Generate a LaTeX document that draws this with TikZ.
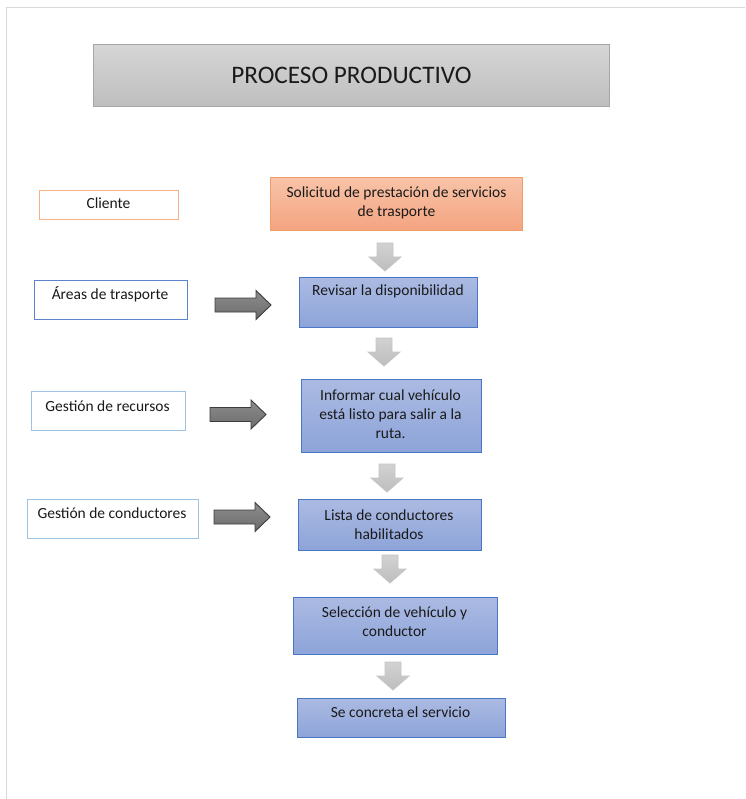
\documentclass[tikz,border=0pt]{standalone}
\usepackage{fontspec}
\setmainfont{Carlito}
\definecolor{txtcol}{HTML}{1A1A1A}
\definecolor{framecol}{HTML}{D9D9D9}
\definecolor{titletop}{HTML}{D6D6D6}
\definecolor{titlebot}{HTML}{BEBEBE}
\definecolor{titleline}{HTML}{A6A6A6}
\definecolor{orangetop}{HTML}{F8C3A8}
\definecolor{orangebot}{HTML}{F4A480}
\definecolor{orangeline}{HTML}{F19C6B}
\definecolor{clientline}{HTML}{F4B183}
\definecolor{bluetop}{HTML}{ABBAE2}
\definecolor{bluebot}{HTML}{8DA4D9}
\definecolor{blueline}{HTML}{4A76C6}
\definecolor{areasline}{HTML}{5B84CC}
\definecolor{lightblueline}{HTML}{9DC3E6}
\definecolor{garrowtop}{HTML}{D2D2D2}
\definecolor{garrowbot}{HTML}{BDBDBD}
\definecolor{garrowline}{HTML}{C6C6C6}
\definecolor{darrowtop}{HTML}{8C8C8C}
\definecolor{darrowbot}{HTML}{6C6C6C}
\definecolor{darrowline}{HTML}{3C3C3C}
\begin{document}
\begin{tikzpicture}[x=1pt,y=-1pt,
  boxbase/.style={rectangle, inner sep=0pt, anchor=north west, line width=0.9pt},
  titlebox/.style={boxbase, shading=axis, top color=titletop, bottom color=titlebot, draw=titleline},
  orangebox/.style={boxbase, shading=axis, top color=orangetop, bottom color=orangebot, draw=orangeline},
  bluebox/.style={boxbase, shading=axis, top color=bluetop, bottom color=bluebot, draw=blueline},
  whitebox/.style={boxbase, fill=white, draw=#1},
  txt/.style={font=\fontsize{15.5}{19}\selectfont, text=txtcol, align=center, inner sep=0pt},
  garrow/.style={shading=axis, top color=garrowtop, bottom color=garrowbot, draw=garrowline, line width=0.8pt, line join=miter},
  darrow/.style={shading=axis, top color=darrowtop, bottom color=darrowbot, draw=darrowline, line width=0.9pt, line join=miter},
  gdown/.pic={\draw[garrow] (-8,0) -- (8,0) -- (8,14) -- (16,14) -- (0,28) -- (-16,14) -- (-8,14) -- cycle;},
  dright/.pic={\draw[darrow] (0,-7) -- (41,-7) -- (41,-14.5) -- (56,0) -- (41,14.5) -- (41,7) -- (0,7) -- cycle;}
]
\useasboundingbox (0,0) rectangle (745,799);
\fill[white] (0,0) rectangle (745,799);
% page frame
\draw[framecol, line width=0.8pt] (6,799) -- (6,7.5) -- (745,7.5);

% title
\node[titlebox, minimum width=516, minimum height=62] (title) at (93,44) {};
\node[txt, font=\fontsize{25.2}{28}\selectfont] (titleT) at (title.center) {PROCESO PRODUCTIVO};

% left boxes
\node[whitebox=clientline, minimum width=139, minimum height=29] (cliente) at (39,190) {};
\node[txt] (clienteT) at (108.5,203.5) {Cliente};
\node[whitebox=areasline, minimum width=153, minimum height=39] (areas) at (34,280) {};
\node[txt] (areasT) at (110,294.5) {Áreas de trasporte};
\node[whitebox=lightblueline, minimum width=154, minimum height=39] (recursos) at (31,391) {};
\node[txt] (recursosT) at (107.5,406.5) {Gestión de recursos};
\node[whitebox=lightblueline, minimum width=171, minimum height=39] (conductores) at (27,499) {};
\node[txt] (conductoresT) at (112,513.5) {Gestión de conductores};

% process boxes
\node[orangebox, minimum width=252, minimum height=53] (solicitud) at (270,177) {};
\node[txt] (solicitudT) at (396.5,202.5) {Solicitud de prestación de servicios\\de trasporte};
\node[bluebox, minimum width=178, minimum height=50] (revisar) at (299,277) {};
\node[txt] (revisarT) at (388,291.5) {Revisar la disponibilidad};
\node[bluebox, minimum width=180, minimum height=73] (informar) at (301,379) {};
\node[txt] (informarT) at (390.5,414.5) {Informar cual vehículo\\está listo para salir a la\\ruta.};
\node[bluebox, minimum width=183, minimum height=51] (lista) at (298,499) {};
\node[txt] (listaT) at (389,524.5) {Lista de conductores\\habilitados};
\node[bluebox, minimum width=204, minimum height=57] (seleccion) at (293,597) {};
\node[txt] (seleccionT) at (394.5,621.5) {Selección de vehículo y\\conductor};
\node[bluebox, minimum width=208, minimum height=39] (concreta) at (297,698) {};
\node[txt] (concretaT) at (400.5,712.5) {Se concreta el servicio};

% gray down arrows
\pic at (385,243) {gdown};
\pic at (384,338) {gdown};
\pic at (387,464) {gdown};
\pic at (390,555) {gdown};
\pic at (393,662) {gdown};

% dark right arrows
\pic at (215,305) {dright};
\pic at (210,414.5) {dright};
\pic at (214,517) {dright};
\end{tikzpicture}
\end{document}
